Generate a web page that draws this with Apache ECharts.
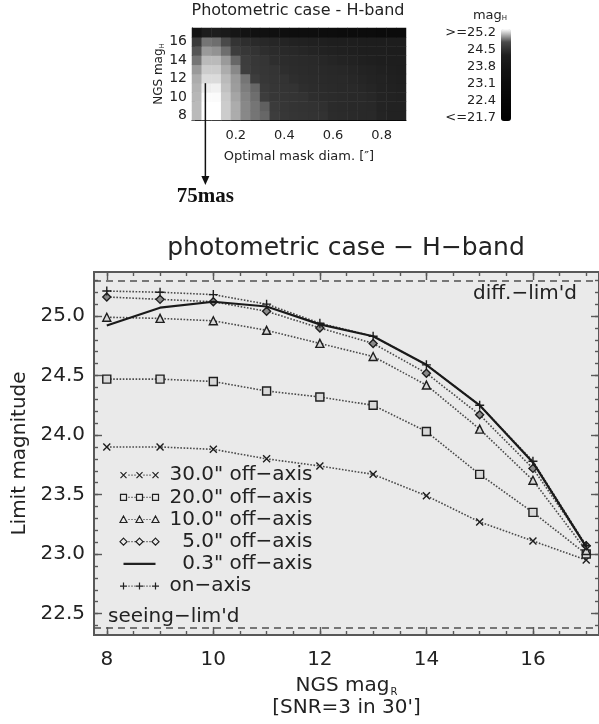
<!DOCTYPE html>
<html>
<head>
<meta charset="utf-8">
<title>photometric case - H-band</title>
<script src="https://cdn.jsdelivr.net/npm/echarts@6/dist/echarts.min.js"></script>
<style>
  html, body { margin: 0; padding: 0; background: #ffffff; }
  #chart { width: 599px; height: 724px; }
</style>
</head>
<body>
<div id="chart"></div>
<script>
// ---- main plot: limit magnitude vs NGS magnitude ----
const ngsMag = [8, 9, 10, 11, 12, 13, 14, 15, 16, 17];
const offAxis30 = [23.90, 23.90, 23.88, 23.80, 23.74, 23.67, 23.49, 23.27, 23.11, 22.95];
const offAxis20 = [24.47, 24.47, 24.45, 24.37, 24.32, 24.25, 24.03, 23.67, 23.35, 23.00];
const offAxis10 = [24.99, 24.98, 24.96, 24.88, 24.77, 24.66, 24.42, 24.05, 23.62, 23.03];
const offAxis5 = [25.16, 25.14, 25.12, 25.04, 24.90, 24.77, 24.52, 24.17, 23.72, 23.07];
const offAxis03 = [24.92, 25.07, 25.12, 25.08, 24.93, 24.83, 24.59, 24.25, 23.77, 23.06];
const onAxis = [25.21, 25.20, 25.18, 25.10, 24.94, 24.83, 24.59, 24.25, 23.78, 23.07];
const seriesNames = ['30.0" off\u2212axis', '20.0" off\u2212axis', '10.0" off\u2212axis',
  '\u20075.0" off\u2212axis', '\u20070.3" off\u2212axis', 'on\u2212axis'];
const diffLimit = 25.30;
const seeingLimit = 22.38;
const xMajor = [8, 10, 12, 14, 16];
const yMajor = [22.5, 23.0, 23.5, 24.0, 24.5, 25.0];

// ---- inset: limit magnitude map (rows = NGS mag, columns = mask diameter) ----
const maskDiam = ['0.04', '0.08', '0.12', '0.16', '0.20', '0.24', '0.28', '0.32', '0.36', '0.40', '0.44',
  '0.48', '0.52', '0.56', '0.60', '0.64', '0.68', '0.72', '0.76', '0.80', '0.84', '0.88'];
const diamLabels = ['0.20', '0.40', '0.60', '0.80'];
const ngsRows = ['8', '9', '10', '11', '12', '13', '14', '15', '16', '17'];
const heat8 = [25.01, 25.20, 25.20, 25.06, 24.97, 24.87, 24.82, 24.78, 24.55, 24.48, 24.46, 24.45, 24.44, 24.43, 24.36, 24.35, 24.34, 24.33, 24.32, 24.27, 24.25, 24.24];
const heat9 = [25.01, 25.20, 25.20, 25.06, 24.97, 24.87, 24.82, 24.76, 24.53, 24.47, 24.45, 24.44, 24.43, 24.40, 24.35, 24.34, 24.33, 24.32, 24.31, 24.26, 24.25, 24.24];
const heat10 = [25.00, 25.19, 25.19, 25.05, 24.95, 24.86, 24.80, 24.55, 24.48, 24.46, 24.45, 24.44, 24.38, 24.36, 24.35, 24.34, 24.33, 24.32, 24.30, 24.26, 24.24, 24.23];
const heat11 = [24.99, 25.15, 25.16, 25.03, 24.93, 24.84, 24.78, 24.52, 24.47, 24.45, 24.44, 24.38, 24.36, 24.35, 24.34, 24.33, 24.32, 24.30, 24.28, 24.25, 24.23, 24.22];
const heat12 = [24.97, 25.10, 25.10, 25.01, 24.92, 24.82, 24.55, 24.48, 24.46, 24.44, 24.38, 24.36, 24.35, 24.34, 24.33, 24.32, 24.30, 24.28, 24.26, 24.24, 24.22, 24.21];
const heat13 = [24.92, 25.06, 25.06, 24.97, 24.87, 24.56, 24.50, 24.47, 24.45, 24.38, 24.36, 24.35, 24.34, 24.33, 24.31, 24.30, 24.28, 24.26, 24.24, 24.22, 24.21, 24.20];
const heat14 = [24.82, 25.01, 25.01, 24.92, 24.78, 24.55, 24.48, 24.46, 24.38, 24.36, 24.35, 24.34, 24.32, 24.30, 24.28, 24.26, 24.24, 24.22, 24.21, 24.20, 24.19, 24.18];
const heat15 = [24.73, 24.92, 24.90, 24.80, 24.55, 24.48, 24.44, 24.38, 24.35, 24.33, 24.31, 24.29, 24.27, 24.25, 24.23, 24.22, 24.21, 24.20, 24.19, 24.18, 24.17, 24.16];
const heat16 = [24.52, 24.82, 24.80, 24.70, 24.45, 24.38, 24.34, 24.31, 24.29, 24.27, 24.25, 24.23, 24.22, 24.21, 24.20, 24.19, 24.18, 24.17, 24.16, 24.15, 24.14, 24.13];
const heat17 = [23.60, 24.10, 24.15, 24.00, 23.80, 23.60, 23.50, 23.45, 23.40, 23.35, 23.30, 23.30, 23.25, 23.20, 23.20, 23.15, 23.10, 23.10, 23.05, 23.00, 23.00, 22.95];
const colorbarTicks = [21.7, 22.4, 23.1, 23.8, 24.5, 25.2];
const optimalDiam = 0.075;      // arrow position, arcsec
const optimalFromMag = 11.5;    // arrow starts at this NGS mag inside the map

const FONT = 'DejaVu Sans';
const INK = '#222222';
const FRAME = '#585858';

// minor tick positions (every 0.5 mag in x, 0.1 mag in y)
const xMinor = [];
for (let k = 16; k <= 34; k++) xMinor.push(k / 2);
const yMinor = [];
for (let k = 224; k <= 253; k++) yMinor.push(k / 10);

const heatRows = [heat8, heat9, heat10, heat11, heat12, heat13, heat14, heat15, heat16, heat17];
const heatData = [];
heatRows.forEach((row, yi) => row.forEach((v, xi) => heatData.push([xi, yi, v])));

const chart = echarts.init(document.getElementById('chart'), null, { renderer: 'canvas' });

function frameAxis(pos, ticks, len, extra) {
  const isX = pos === 'top' || pos === 'bottom';
  return Object.assign({
    type: 'value',
    gridIndex: 0,
    position: pos,
    min: isX ? 7.76 : 22.32,
    max: isX ? 17.24 : 25.37,
    splitLine: { show: false },
    axisLine: { show: true, onZero: false, lineStyle: { color: FRAME, width: 2 } },
    axisTick: { show: true, inside: true, length: len, customValues: ticks, lineStyle: { color: FRAME, width: 1.4 } },
    axisLabel: { show: false }
  }, extra || {});
}

const labelStyle = { fontFamily: FONT, fontSize: 20, color: INK };

// legend icons: three symbols joined by dots, in a 40 x 10 box
const dots = 'M9,5L10,5M12,5L13,5M15,5L16,5M24,5L25,5M27,5L28,5M30,5L31,5';
const box = 'M0,0M40,10';
const iconCross = 'path://' + box + 'M1,2L7,8M7,2L1,8M17,2L23,8M23,2L17,8M33,2L39,8M39,2L33,8' + dots;
const iconSquare = 'path://' + box + 'M1,2L7,2L7,8L1,8ZM17,2L23,2L23,8L17,8ZM33,2L39,2L39,8L33,8Z' + dots;
const iconTri = 'path://' + box + 'M4,1.5L7.5,8L0.5,8ZM20,1.5L23.5,8L16.5,8ZM36,1.5L39.5,8L32.5,8Z' + dots;
const iconDiamond = 'path://' + box + 'M4,1.5L7.5,5L4,8.5L0.5,5ZM20,1.5L23.5,5L20,8.5L16.5,5ZM36,1.5L39.5,5L36,8.5L32.5,5Z' + dots;
const iconSolid = 'path://' + box + 'M4,5L36,5';
const iconPlus = 'path://' + box + 'M0.5,5L7.5,5M4,1.5L4,8.5M16.5,5L23.5,5M20,1.5L20,8.5M32.5,5L39.5,5M36,1.5L36,8.5' + dots;
const legendIcons = [iconCross, iconSquare, iconTri, iconDiamond, iconSolid, iconPlus];

function offAxisSeries(name, ys, symbol, size, fill) {
  return {
    name: name,
    type: 'line',
    xAxisIndex: 0,
    yAxisIndex: 0,
    data: ngsMag.map((x, i) => [x, ys[i]]),
    symbol: symbol,
    symbolSize: size,
    showSymbol: true,
    lineStyle: { color: '#4a4a4a', width: 1.6, type: [1.6, 1.6] },
    itemStyle: { color: fill, borderColor: '#1e1e1e', borderWidth: 1.4 },
    emphasis: { disabled: true },
    animation: false,
    z: 3
  };
}

const lineSeries = [
  offAxisSeries(seriesNames[0], offAxis30, 'path://M0,0L10,10M10,0L0,10', 7, 'none'),
  offAxisSeries(seriesNames[1], offAxis20, 'rect', 8, '#d8d8d8'),
  offAxisSeries(seriesNames[2], offAxis10, 'triangle', 8, '#d8d8d8'),
  offAxisSeries(seriesNames[3], offAxis5, 'diamond', 8, '#8a8a8a'),
  {
    name: seriesNames[4],
    type: 'line',
    xAxisIndex: 0,
    yAxisIndex: 0,
    data: ngsMag.map((x, i) => [x, offAxis03[i]]),
    showSymbol: false,
    symbol: 'none',
    lineStyle: { color: '#1a1a1a', width: 2.2 },
    emphasis: { disabled: true },
    animation: false,
    z: 4
  },
  offAxisSeries(seriesNames[5], onAxis, 'path://M5,0L5,10M0,5L10,5', 9, 'none')
];

// dashed limit lines with their captions
lineSeries[0].markLine = {
  silent: true,
  symbol: 'none',
  animation: false,
  lineStyle: { color: '#505050', width: 1.5, type: [7, 5] },
  data: [
    { yAxis: diffLimit, label: { show: true, position: 'insideEndBottom', distance: [22, 3], formatter: 'diff.\u2212lim\'d', fontFamily: FONT, fontSize: 20, color: INK } },
    { yAxis: seeingLimit, label: { show: true, position: 'insideStartTop', distance: [14, 1], formatter: 'seeing\u2212lim\'d', fontFamily: FONT, fontSize: 20, color: INK } }
  ]
};

const option = {
  backgroundColor: '#ffffff',
  animation: false,
  title: [
    {
      text: 'photometric case \u2212 H\u2212band',
      left: 346, top: 236, textAlign: 'center', padding: 0,
      textStyle: { fontFamily: FONT, fontSize: 25, fontWeight: 'normal', color: INK }
    },
    {
      text: 'Photometric case - H-band',
      left: 298, top: 3, textAlign: 'center', padding: 0,
      textStyle: { fontFamily: FONT, fontSize: 16, fontWeight: 'normal', color: INK }
    }
  ],
  grid: [
    { left: 94, top: 272, right: -1, bottom: 85, show: true, backgroundColor: '#eaeaea', borderWidth: 0 },
    { left: 192, top: 28, width: 214, height: 92, show: false },
    { left: 501, top: 33, width: 10, height: 85, show: false }
  ],
  legend: {
    orient: 'vertical',
    left: 117,
    top: 464,
    padding: 0,
    itemGap: 0,
    itemWidth: 40,
    itemHeight: 10,
    selectedMode: false,
    textStyle: { fontFamily: FONT, fontSize: 20, color: INK, lineHeight: 22.2, padding: [0, 0, 0, 5] },
    data: seriesNames.map((n, i) => ({
      name: n,
      icon: legendIcons[i],
      itemStyle: { color: 'none', borderColor: '#222', borderWidth: i === 4 ? 2.2 : 1.2 }
    }))
  },
  xAxis: [
    frameAxis('bottom', xMajor, 8, {
      axisLabel: Object.assign({ show: true, customValues: xMajor, margin: 15 }, labelStyle),
      name: 'NGS mag{s|R}\n[SNR=3 in 30\']',
      nameLocation: 'middle',
      nameGap: 40,
      nameTextStyle: Object.assign({ lineHeight: 22, rich: { s: { fontFamily: FONT, fontSize: 10, color: INK, verticalAlign: 'bottom', lineHeight: 22, padding: [8, 0, 0, 1] } } }, labelStyle)
    }),
    frameAxis('bottom', xMinor, 4),
    frameAxis('top', xMajor, 8),
    frameAxis('top', xMinor, 4),
    {
      type: 'category', gridIndex: 1, data: maskDiam,
      axisLine: { show: true, lineStyle: { color: '#000', width: 1 } },
      axisTick: { show: false },
      splitLine: { show: false },
      axisLabel: {
        interval: (idx, val) => diamLabels.indexOf(val) >= 0,
        formatter: v => String(parseFloat(v)),
        margin: 9, fontFamily: FONT, fontSize: 13, color: INK
      },
      name: 'Optimal mask diam. [\u2033]',
      nameLocation: 'middle',
      nameGap: 30,
      nameTextStyle: { fontFamily: FONT, fontSize: 13, color: INK }
    },
    { type: 'value', gridIndex: 2, show: false, min: 0, max: 1 }
  ],
  yAxis: [
    frameAxis('left', yMajor, 8, {
      axisLabel: Object.assign({ show: true, customValues: yMajor, margin: 9, formatter: v => v.toFixed(1) }, labelStyle),
      name: 'Limit magnitude',
      nameLocation: 'middle',
      nameGap: 64,
      nameTextStyle: labelStyle
    }),
    frameAxis('left', yMinor, 4),
    frameAxis('right', yMajor, 8),
    frameAxis('right', yMinor, 4),
    {
      type: 'category', gridIndex: 1, data: ngsRows,
      axisLine: { show: true, lineStyle: { color: '#000', width: 1 } },
      axisTick: { show: true, inside: true, length: 3, lineStyle: { color: '#444' } },
      splitLine: { show: false },
      axisLabel: { interval: 1, margin: 5, fontFamily: FONT, fontSize: 14, color: INK },
      name: 'NGS mag{s|H}',
      nameLocation: 'middle',
      nameGap: 25,
      nameTextStyle: { fontFamily: FONT, fontSize: 12, color: INK, rich: { s: { fontFamily: FONT, fontSize: 7, color: INK, padding: [5, 0, 0, 0] } } }
    },
    {
      type: 'value', gridIndex: 2, min: 21.7, max: 25.2,
      axisLine: { show: false },
      axisTick: { show: false },
      splitLine: { show: false },
      axisLabel: {
        customValues: colorbarTicks,
        margin: 5,
        fontFamily: FONT, fontSize: 13, color: INK,
        formatter: v => v >= 25.15 ? '>=' + v.toFixed(1) : (v <= 21.75 ? '<=' + v.toFixed(1) : v.toFixed(1))
      },
      name: 'mag{s|H}',
      nameLocation: 'end',
      nameGap: 11,
      nameTextStyle: { fontFamily: FONT, fontSize: 13, color: INK, align: 'center', padding: [0, 22, 0, 0], rich: { s: { fontFamily: FONT, fontSize: 7, color: INK, padding: [5, 0, 0, 0] } } }
    }
  ],
  visualMap: {
    type: 'continuous',
    seriesIndex: 0,
    min: 21.7,
    max: 25.2,
    calculable: false,
    orient: 'vertical',
    left: 501,
    top: 29,
    itemWidth: 10,
    itemHeight: 92,
    padding: 0,
    inRange: { color: ['#000000', '#040404', '#080808', '#0d0d0d', '#141414', '#1e1e1e', '#4a4a4a', '#ffffff'] }
  },
  series: [
    {
      type: 'heatmap',
      xAxisIndex: 4,
      yAxisIndex: 4,
      data: heatData,
      emphasis: { disabled: true },
      animation: false,
      z: 1
    }
  ].concat(lineSeries)
};

chart.setOption(option);

// arrow marking the optimal mask diameter (placed through the map's own axes)
const c0 = chart.convertToPixel({ xAxisIndex: 4 }, 0);
const c1 = chart.convertToPixel({ xAxisIndex: 4 }, 1);
const ax = c0 + (optimalDiam - parseFloat(maskDiam[0])) / (parseFloat(maskDiam[1]) - parseFloat(maskDiam[0])) * (c1 - c0);
const rLo = chart.convertToPixel({ yAxisIndex: 4 }, ngsRows.indexOf(String(Math.floor(optimalFromMag))));
const rHi = chart.convertToPixel({ yAxisIndex: 4 }, ngsRows.indexOf(String(Math.ceil(optimalFromMag))));
const ay0 = (rLo + rHi) / 2;
const mapBottom = chart.convertToPixel({ yAxisIndex: 4 }, 0) + (rLo - rHi) / 2;
const tipY = mapBottom + 65;

chart.setOption({
  graphic: [
    { type: 'line', shape: { x1: ax, y1: ay0, x2: ax, y2: tipY - 7 }, style: { stroke: '#111', lineWidth: 1.5 }, z: 10 },
    { type: 'polygon', shape: { points: [[ax - 4, tipY - 9], [ax + 4, tipY - 9], [ax, tipY]] }, style: { fill: '#111' }, z: 10 },
    { type: 'text', x: ax, y: tipY + 12, style: { text: '75mas', font: 'bold 21px "Liberation Serif"', fill: '#111', align: 'center', verticalAlign: 'middle' }, z: 10 }
  ]
});
</script>
</body>
</html>
